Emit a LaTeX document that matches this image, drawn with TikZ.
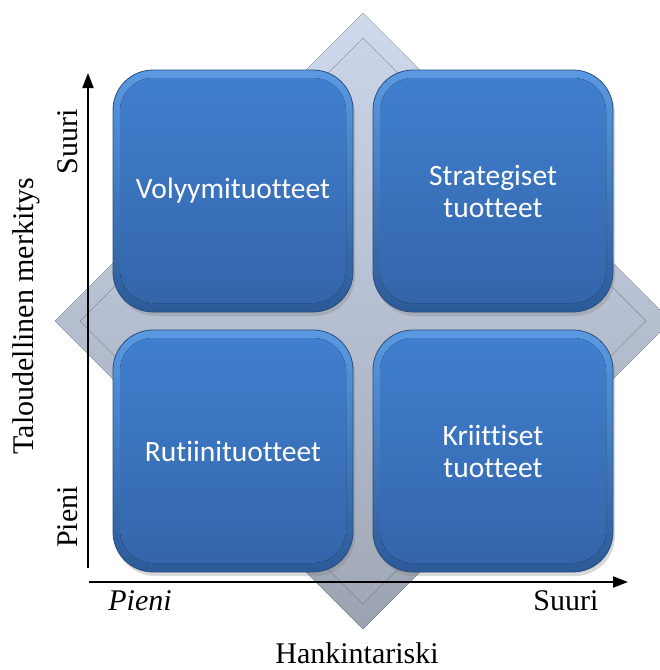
\documentclass[tikz,border=0pt]{standalone}
\usepackage{fontspec}
\setmainfont{Liberation Serif}
\newfontfamily\boxfont[Ligatures=NoCommon]{Carlito}
\usetikzlibrary{arrows.meta,shadows}
\definecolor{rimtop}{HTML}{5A9AE2}
\definecolor{rimbot}{HTML}{2C5A98}
\definecolor{bodytop}{HTML}{4080D0}
\definecolor{bodybot}{HTML}{3464A8}
\definecolor{boxedge}{HTML}{2A4E80}
\definecolor{diatop}{HTML}{D0DAED}
\definecolor{diamid}{HTML}{BEC7D9}
\definecolor{diabot}{HTML}{9BA3B2}
\definecolor{diaintop}{HTML}{CAD4E8}
\definecolor{diainmid}{HTML}{BBC4D6}
\definecolor{diainbot}{HTML}{A1A9B8}
\tikzset{
  quadbox/.style={rectangle, rounded corners=40pt, minimum width=240pt, minimum height=242pt,
    draw=boxedge, line width=0.8pt, top color=rimtop, bottom color=rimbot,
    text=white, align=center, inner sep=0pt,
    font=\boxfont\fontsize{29.5pt}{32pt}\selectfont,
    drop shadow={shadow xshift=2pt, shadow yshift=-4pt, opacity=0.3},
    path picture={\fill[rounded corners=33pt, top color=bodytop, bottom color=bodybot]
      ([shift={(7pt,-8pt)}]path picture bounding box.north west) rectangle
      ([shift={(-7pt,9pt)}]path picture bounding box.south east);}},
  axis/.style={line width=2pt, -{Triangle[length=15pt,width=11pt]}},
  lab/.style={font=\fontsize{30pt}{34pt}\selectfont, inner sep=0pt, anchor=base}
}
\begin{document}
\begin{tikzpicture}[x=1pt,y=-1pt]
\useasboundingbox (0,0) rectangle (660,670);
% background diamond
\fill[top color=diatop, middle color=diamid, bottom color=diabot]
  (363,13) -- (671,321) -- (363,629) -- (55,321) -- cycle;
\fill[top color=diaintop, middle color=diainmid, bottom color=diainbot]
  (363,38) -- (646,321) -- (363,604) -- (80,321) -- cycle;
% quadrant boxes
\node[quadbox] (vol) at (233,191) {Volyymituotteet};
\node[quadbox] (str) at (493,191) {Strategiset\\tuotteet};
\node[quadbox] (rut) at (233,451) {Rutiinituotteet};
\node[quadbox] (kri) at (493,451) {Kriittiset\\tuotteet};
% axes
\coordinate (ybot) at (88,568);
\coordinate (ytop) at (88,73);
\coordinate (xbeg) at (89,582);
\coordinate (xend) at (628,582);
\draw[axis] (ybot) -- (ytop);
\draw[axis] (xbeg) -- (xend);
% axis labels
\node[lab, rotate=90] (ysuuri) at (77,142) {Suuri};
\node[lab, rotate=90] (ypieni) at (77,517) {Pieni};
\node[lab, rotate=90] (ytitle) at (34,316) {Taloudellinen merkitys};
\node[lab, font=\itshape\fontsize{30pt}{34pt}\selectfont] (xpieni) at (140,610) {Pieni};
\node[lab] (xsuuri) at (566,610) {Suuri};
\node[lab] (xtitle) at (357,663) {Hankintariski};
\end{tikzpicture}
\end{document}
